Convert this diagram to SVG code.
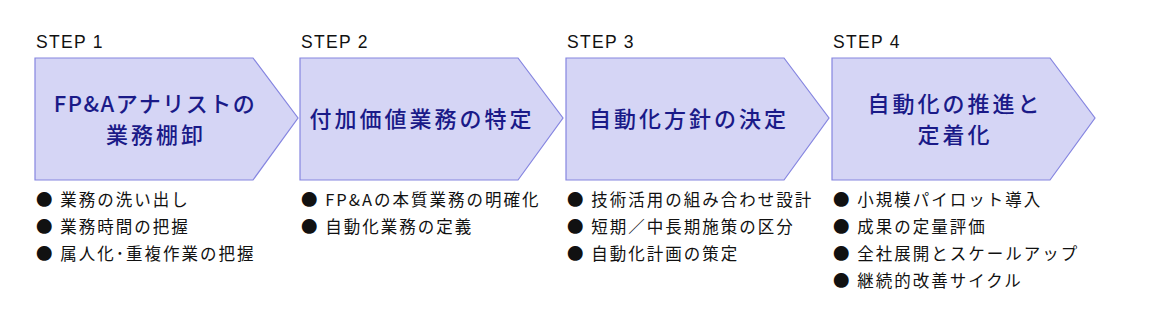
<svg xmlns="http://www.w3.org/2000/svg" width="1150" height="329" viewBox="0 0 1150 329">
<style>
.bg{fill:#ffffff}
.arrow{fill:#d5d5f5;stroke:#8585e0;stroke-width:1.2}
.step{font-family:"Liberation Sans","Noto Sans CJK JP",sans-serif;font-size:17.5px;fill:#111111;letter-spacing:1.3px}
.title{font-family:"Noto Sans CJK JP",sans-serif;font-size:22px;font-weight:500;fill:#1a1a88;text-anchor:middle;letter-spacing:3px}
.tight{letter-spacing:1.5px}
.item{font-family:"Noto Sans CJK JP",sans-serif;font-size:16.5px;fill:#111111;letter-spacing:2px}
</style>
<defs>
<polygon id="chev" points="0,0 218,0 263,60 218,122 0,122"/>
</defs>
<rect class="bg" x="0" y="0" width="1150" height="329"/>
<g id="step1">
<text class="step" x="36" y="48">STEP 1</text>
<use href="#chev" class="arrow" x="35" y="58"/>
<text class="title tight" x="155" y="112">FP&amp;Aアナリストの</text>
<text class="title" x="156" y="143">業務棚卸</text>
<text class="item" x="36" y="206">● 業務の洗い出し</text>
<text class="item" x="36" y="233">● 業務時間の把握</text>
<text class="item" x="36" y="260">● 属人化･重複作業の把握</text>
</g>
<g id="step2">
<text class="step" x="301" y="48">STEP 2</text>
<use href="#chev" class="arrow" x="300" y="58"/>
<text class="title" x="422" y="127">付加価値業務の特定</text>
<text class="item" x="301" y="206">● FP&amp;Aの本質業務の明確化</text>
<text class="item" x="301" y="233">● 自動化業務の定義</text>
</g>
<g id="step3">
<text class="step" x="567" y="48">STEP 3</text>
<use href="#chev" class="arrow" x="566" y="58"/>
<text class="title" x="689" y="127">自動化方針の決定</text>
<text class="item" x="567" y="206">● 技術活用の組み合わせ設計</text>
<text class="item" x="567" y="233">● 短期／中長期施策の区分</text>
<text class="item" x="567" y="260">● 自動化計画の策定</text>
</g>
<g id="step4">
<text class="step" x="833" y="48">STEP 4</text>
<use href="#chev" class="arrow" x="832" y="58"/>
<text class="title" x="955" y="112">自動化の推進と</text>
<text class="title" x="955" y="143">定着化</text>
<text class="item" x="833" y="206">● 小規模パイロット導入</text>
<text class="item" x="833" y="233">● 成果の定量評価</text>
<text class="item" x="833" y="260">● 全社展開とスケールアップ</text>
<text class="item" x="833" y="287">● 継続的改善サイクル</text>
</g>
<g id="connectors"></g>
</svg>
